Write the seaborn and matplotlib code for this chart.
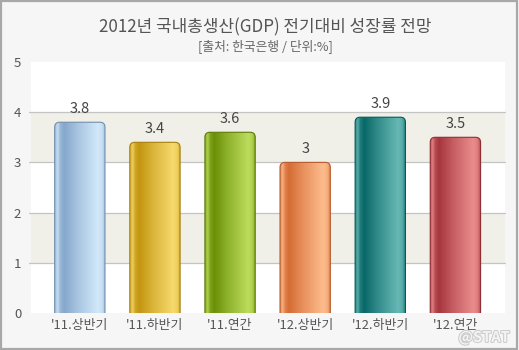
import numpy as np
import pandas as pd
import matplotlib
matplotlib.use("Agg")
import matplotlib.pyplot as plt
import matplotlib.patheffects as pe
from matplotlib.patches import FancyBboxPatch, Rectangle
from matplotlib.colors import to_rgb
import seaborn as sns

# Data
categories = ["'11.상반기", "'11.하반기", "'11.연간", "'12.상반기", "'12.하반기", "'12.연간"]
growth = [3.8, 3.4, 3.6, 3.0, 3.9, 3.5]
dark_colors = ["#86a8cc", "#c39510", "#6a9006", "#d66c36", "#086868", "#a6363e"]
light_colors = ["#d2e8fa", "#f6da6c", "#bcdc5c", "#fdbc8c", "#66b8b4", "#ea8c8c"]
title = "2012년 국내총생산(GDP) 전기대비 성장률 전망"
subtitle = "[출처: 한국은행 / 단위:%]"

sns.set_theme(style="white")
plt.rcParams["font.family"] = ["Noto Sans CJK KR", "DejaVu Sans"]

df = pd.DataFrame({"category": categories, "growth": growth})

fig = plt.figure(figsize=(5.19, 3.5), dpi=100)
fig.patch.set_facecolor("#f6f6f6")
fig.patches.append(Rectangle((0.002, 0.004), 0.994, 0.992, transform=fig.transFigure,
                             fill=False, edgecolor="#a8a8a8", linewidth=1.6))

ax = fig.add_axes([0.0597, 0.1057, 0.9133, 0.7172])
ax.set_facecolor("white")

sns.barplot(data=df, x="category", y="growth", hue="category", palette=dark_colors,
            width=0.67, saturation=1, legend=False, ax=ax)
bars = list(ax.patches)

ax.set_xlim(-0.65, 5.66)
ax.set_ylim(0, 5)

# Alternating bands and grid
for lo in (1, 3):
    ax.axhspan(lo, lo + 1, color="#f0f0e9", zorder=0, linewidth=0)
for y in (1, 2, 3, 4):
    ax.axhline(y, color="#c4c4c4", linewidth=0.9, zorder=0.5, clip_on=False,
               xmin=-0.004, xmax=1)

# Gradient profile across a bar (0 = dark, 1 = light)
pos = np.linspace(0, 1, 200)
stops_x = [0.0, 0.05, 0.10, 0.18, 0.45, 0.85, 0.93, 1.0]
stops_v = [0.35, 0.85, 0.25, 0.0, 0.45, 1.0, 0.85, 0.25]
profile = np.interp(pos, stops_x, stops_v)

px_per_x = ax.bbox.width / (ax.get_xlim()[1] - ax.get_xlim()[0])
px_per_y = ax.bbox.height / (ax.get_ylim()[1] - ax.get_ylim()[0])

for i, patch in enumerate(bars):
    x0 = patch.get_x()
    w = patch.get_width()
    h = patch.get_height()
    patch.set_visible(False)
    d = np.array(to_rgb(dark_colors[i]))
    l = np.array(to_rgb(light_colors[i]))
    img = d[None, :] * (1 - profile[:, None]) + l[None, :] * profile[:, None]
    img = img[None, :, :]
    r = 5.0 / px_per_x
    shape = FancyBboxPatch((x0, -0.3), w, h + 0.3,
                           boxstyle=f"round,pad=0,rounding_size={r}",
                           mutation_aspect=px_per_x / px_per_y,
                           facecolor="none", edgecolor=tuple(d * 0.85),
                           linewidth=0.8, zorder=3)
    ax.add_patch(shape)
    im = ax.imshow(img, extent=[x0, x0 + w, 0, h], aspect="auto",
                   interpolation="bilinear", zorder=2)
    im.set_clip_path(shape)
    ax.text(x0 + w / 2, h + 0.13, f"{growth[i]:g}", ha="center", va="bottom",
            fontsize=10.5, color="#444444")

ax.set_xlim(-0.65, 5.66)
ax.set_ylim(0, 5)

for s in ax.spines.values():
    s.set_visible(False)
ax.set_xlabel("")
ax.set_ylabel("")
ax.set_yticks([0, 1, 2, 3, 4, 5])
ax.set_yticklabels(["0", "1", "2", "3", "4", "5"])
ax.tick_params(axis="y", length=0, pad=7, labelsize=9.5, labelcolor="#555555")
ax.tick_params(axis="x", length=0, pad=4, labelsize=9.3, labelcolor="#555555")

fig.text(0.511, 0.922, title, ha="center", va="center", fontsize=12.2,
         color="#555555")
fig.text(0.511, 0.868, subtitle, ha="center", va="center", fontsize=9.2,
         color="#666666")

fig.text(0.982, 0.035, "@STAT", ha="right", va="center", fontsize=10.5,
         fontweight="bold", color="#f4f4f4",
         path_effects=[pe.withStroke(linewidth=1.5, foreground="#cccccc")])

fig.savefig("out.png", dpi=100, facecolor=fig.get_facecolor())
